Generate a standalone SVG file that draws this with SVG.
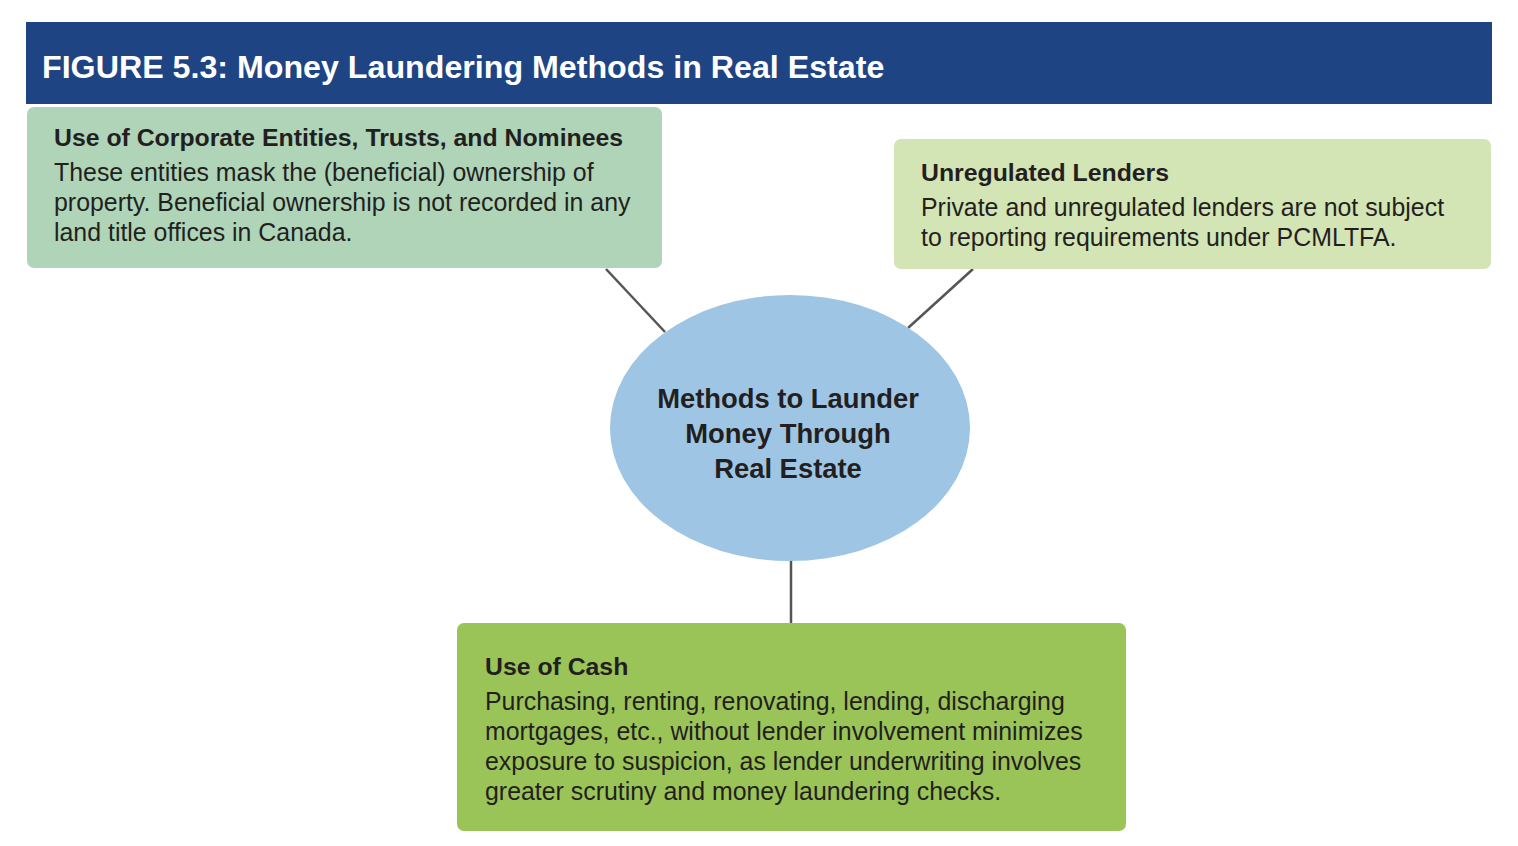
<svg xmlns="http://www.w3.org/2000/svg" width="1518" height="846" viewBox="0 0 1518 846">
<style>
.t{font-family:"Liberation Sans",Arial,sans-serif;fill:#231f20}
.h{font-weight:bold;font-size:24.8px}
.b{font-size:24.9px}
.c{font-weight:bold;font-size:27.4px;text-anchor:middle}
.ln{stroke:#555;stroke-width:2.5;fill:none}
</style>
<rect width="1518" height="846" fill="#fff"/>
<g id="header">
<rect x="26" y="22" width="1466" height="82" fill="#1f4484"/>
<text x="42" y="78" font-family="Liberation Sans,Arial,sans-serif" font-weight="bold" font-size="32.2" fill="#fff">FIGURE 5.3: Money Laundering Methods in Real Estate</text>
</g>
<g id="connectors">
<line class="ln" x1="606" y1="269" x2="665" y2="332"/>
<line class="ln" x1="973" y1="269" x2="908" y2="328"/>
<line class="ln" x1="791" y1="560" x2="791" y2="623"/>
</g>
<g id="center">
<ellipse cx="790" cy="428" rx="180" ry="133" fill="#9ec6e4"/>
<text class="t c" x="788" y="408">Methods to Launder</text>
<text class="t c" x="788" y="443">Money Through</text>
<text class="t c" x="788" y="478">Real Estate</text>
</g>
<g id="corporate">
<rect x="27" y="107" width="635" height="161" rx="7" fill="#afd4b7"/>
<text class="t h" x="54" y="146">Use of Corporate Entities, Trusts, and Nominees</text>
<text class="t b" x="54" y="181">These entities mask the (beneficial) ownership of</text>
<text class="t b" x="54" y="211">property. Beneficial ownership is not recorded in any</text>
<text class="t b" x="54" y="241">land title offices in Canada.</text>
</g>
<g id="lenders">
<rect x="894" y="139" width="597" height="130" rx="7" fill="#d3e4b5"/>
<text class="t h" x="921" y="181">Unregulated Lenders</text>
<text class="t b" x="921" y="216">Private and unregulated lenders are not subject</text>
<text class="t b" x="921" y="246">to reporting requirements under PCMLTFA.</text>
</g>
<g id="cash">
<rect x="457" y="623" width="669" height="208" rx="7" fill="#9bc458"/>
<text class="t h" x="485" y="675">Use of Cash</text>
<text class="t b" x="485" y="710">Purchasing, renting, renovating, lending, discharging</text>
<text class="t b" x="485" y="740">mortgages, etc., without lender involvement minimizes</text>
<text class="t b" x="485" y="770">exposure to suspicion, as lender underwriting involves</text>
<text class="t b" x="485" y="800">greater scrutiny and money laundering checks.</text>
</g>
</svg>
